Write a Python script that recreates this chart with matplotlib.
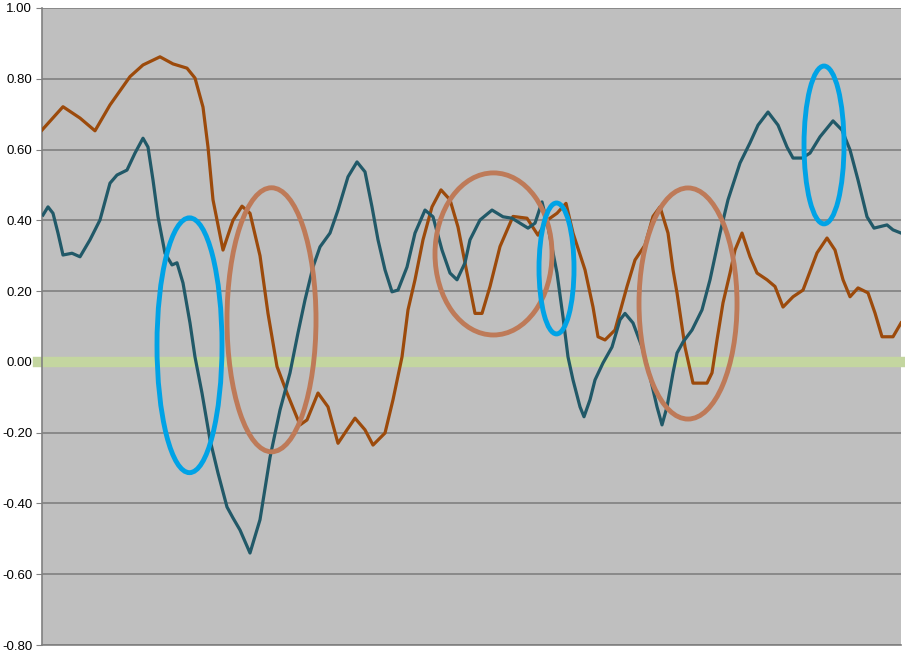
import matplotlib
matplotlib.use("Agg")
import matplotlib.pyplot as plt
from matplotlib.patches import Ellipse
import numpy as np

# sample positions (0..859) and values
brown_x = [0, 21, 38, 53, 68, 88, 101, 118, 131, 145, 153, 161, 166, 171, 181, 191, 200, 208,
           218, 226, 235, 245, 258, 265, 276, 286, 296, 305, 313, 323, 331, 343, 351, 360, 366,
           373, 381, 390, 399, 408, 416, 425, 433, 440, 448, 458, 471, 485, 496, 505, 515, 524,
           531, 543, 551, 556, 563, 573, 585, 593, 603, 611, 618, 626, 631, 635, 643, 651, 665,
           670, 675, 681, 688, 693, 700, 708, 715, 725, 733, 741, 751, 761, 775, 785, 793, 801,
           808, 816, 826, 833, 840, 851, 859]
brown_y = [0.655, 0.721, 0.689, 0.653, 0.726, 0.806, 0.839, 0.862, 0.842, 0.830, 0.802, 0.72,
           0.607, 0.458, 0.316, 0.40, 0.44, 0.42, 0.30, 0.137, -0.013, -0.088, -0.178, -0.164,
           -0.088, -0.127, -0.230, -0.192, -0.159, -0.192, -0.235, -0.201, -0.107, 0.014, 0.147,
           0.232, 0.345, 0.438, 0.486, 0.458, 0.381, 0.251, 0.137, 0.137, 0.213, 0.326, 0.411,
           0.406, 0.358, 0.40, 0.42, 0.448, 0.364, 0.26, 0.155, 0.071, 0.062, 0.090, 0.213,
           0.288, 0.33, 0.411, 0.438, 0.364, 0.26, 0.195, 0.042, -0.06, -0.06, -0.031, 0.062,
           0.167, 0.251, 0.316, 0.364, 0.297, 0.251, 0.232, 0.213, 0.155, 0.184, 0.203, 0.308,
           0.350, 0.316, 0.232, 0.184, 0.209, 0.195, 0.138, 0.071, 0.071, 0.110]

teal_x = [1, 6, 11, 16, 21, 30, 38, 48, 58, 68, 75, 85, 93, 101, 106, 111, 116, 123, 130, 135,
          141, 148, 153, 160, 168, 176, 185, 191, 198, 208, 218, 228, 238, 248, 256, 263, 271,
          278, 288, 296, 306, 315, 323, 330, 336, 343, 350, 356, 365, 373, 383, 391, 400, 408,
          415, 423, 428, 438, 450, 461, 470, 478, 486, 493, 500, 506, 515, 521, 526, 531, 538,
          542, 548, 553, 561, 570, 578, 583, 591, 600, 608, 615, 620, 625, 631, 635, 641, 650,
          660, 668, 678, 686, 698, 708, 716, 726, 736, 745, 751, 760, 768, 778, 791, 800, 808,
          816, 825, 832, 845, 851, 859]
teal_y = [0.415, 0.438, 0.42, 0.364, 0.302, 0.307, 0.297, 0.345, 0.401, 0.505, 0.528, 0.542,
          0.59, 0.632, 0.607, 0.514, 0.41, 0.307, 0.274, 0.28, 0.223, 0.110, 0.014, -0.088,
          -0.22, -0.314, -0.41, -0.441, -0.475, -0.54, -0.446, -0.27, -0.136, -0.031, 0.082,
          0.175, 0.268, 0.325, 0.364, 0.429, 0.523, 0.565, 0.537, 0.438, 0.345, 0.26, 0.198,
          0.203, 0.268, 0.364, 0.429, 0.41, 0.316, 0.251, 0.232, 0.28, 0.345, 0.401, 0.429,
          0.41, 0.406, 0.392, 0.378, 0.392, 0.452, 0.381, 0.251, 0.127, 0.014, -0.051, -0.127,
          -0.155, -0.107, -0.051, -0.003, 0.042, 0.119, 0.137, 0.110, 0.042, -0.042, -0.127,
          -0.178, -0.127, -0.031, 0.025, 0.056, 0.09, 0.147, 0.232, 0.364, 0.458, 0.562, 0.619,
          0.669, 0.706, 0.669, 0.607, 0.576, 0.576, 0.59, 0.636, 0.681, 0.655, 0.599, 0.514,
          0.41, 0.378, 0.387, 0.373, 0.364]

y_ticks = [1.0, 0.8, 0.6, 0.4, 0.2, 0.0, -0.2, -0.4, -0.6, -0.8]

# highlight ellipses: (centre x, centre y, width, height)
blue_marks = [(147.5, 0.047, 65, 0.72), (514.5, 0.264, 35, 0.37), (782, 0.613, 40, 0.446)]
brown_marks = [(229.5, 0.119, 89, 0.746), (451.5, 0.305, 117, 0.458), (646, 0.165, 98, 0.653)]

fig = plt.figure(figsize=(9.05, 6.6), dpi=100)
ax = fig.add_axes([0.0464, 0.0227, 0.9492, 0.9652])
ax.set_facecolor("#bfbfbf")

ax.set_xlim(0, 859)
ax.set_ylim(-0.8, 1.0)
ax.set_yticks(y_ticks)
ax.set_yticklabels(["%.2f" % v for v in y_ticks], fontsize=9.5,
                   fontfamily="Liberation Sans")
ax.set_xticks([])
ax.yaxis.grid(True, color="#808080", lw=1.2)
ax.set_axisbelow(True)
ax.tick_params(axis="y", length=4, color="#808080", pad=3)
for side in ("top", "right"):
    ax.spines[side].set_visible(False)
for side in ("left", "bottom"):
    ax.spines[side].set_color("#808080")
    ax.spines[side].set_linewidth(1.2)

ax.axhline(0, xmin=-0.005, xmax=1.005, color="#c4d6a0", lw=7.5, clip_on=False, zorder=2)

ax.plot(brown_x, brown_y, color="#9c4a0b", lw=2.3, zorder=3)
ax.plot(teal_x, teal_y, color="#215968", lw=2.3, zorder=3)

for cx, cy, w, h in brown_marks:
    ax.add_patch(Ellipse((cx, cy), w, h, fill=False, ec="#be7a58", lw=3.5, zorder=4))
for cx, cy, w, h in blue_marks:
    ax.add_patch(Ellipse((cx, cy), w, h, fill=False, ec="#00a3e6", lw=3.5, zorder=4))

fig.savefig("out.png", dpi=100)
